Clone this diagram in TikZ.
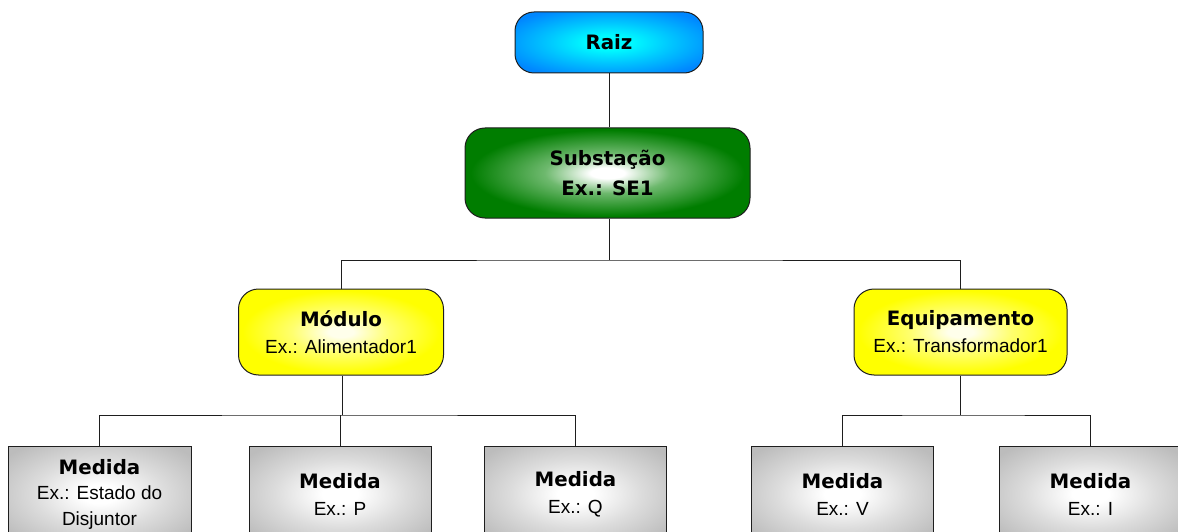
\documentclass[tikz,border=0pt]{standalone}
\usepackage{fontspec}
\newfontfamily\titlef{DejaVu Sans}
\newfontfamily\subf{Liberation Sans}
\definecolor{boxgray}{RGB}{188,188,188}
\definecolor{graymid}{RGB}{220,220,220}
\definecolor{rootblue}{RGB}{0,135,255}
\definecolor{rootmid}{RGB}{0,200,255}
\definecolor{rootcyan}{RGB}{0,250,255}
\definecolor{subgreen}{RGB}{0,125,0}
\definecolor{greenmid}{RGB}{110,185,110}
\definecolor{modyellow}{RGB}{255,255,0}
\definecolor{yellowmid}{RGB}{255,255,110}
\definecolor{modcenter}{RGB}{255,255,235}
\definecolor{linecol}{RGB}{30,30,30}
\pgfdeclareradialshading{grayshade}{\pgfpoint{0bp}{0bp}}{color(0bp)=(white); color(5bp)=(white); color(18bp)=(graymid); color(32bp)=(boxgray); color(100bp)=(boxgray)}
\pgfdeclareradialshading{rootshade}{\pgfpoint{0bp}{0bp}}{color(0bp)=(rootcyan); color(6bp)=(rootcyan); color(16bp)=(rootmid); color(30bp)=(rootblue); color(100bp)=(rootblue)}
\pgfdeclareradialshading{greenshade}{\pgfpoint{0bp}{0bp}}{color(0bp)=(white); color(3bp)=(white); color(11bp)=(greenmid); color(24bp)=(subgreen); color(100bp)=(subgreen)}
\pgfdeclareradialshading{yellowshade}{\pgfpoint{0bp}{0bp}}{color(0bp)=(modcenter); color(3bp)=(modcenter); color(12bp)=(yellowmid); color(24bp)=(modyellow); color(100bp)=(modyellow)}
\newcommand{\ttlfnt}{\titlef\bfseries\fontsize{19.8}{27}\selectfont}
\newcommand{\subfnt}{\subf}
\tikzset{
  basebox/.style={draw=linecol, line width=1pt, align=center, inner sep=0pt,
    font=\fontsize{19}{27}\selectfont},
  rootbox/.style={basebox, shading=rootshade, rounded corners=19pt, minimum width=188pt, minimum height=61pt},
  subbox/.style={basebox, shading=greenshade, rounded corners=20pt, minimum width=285pt, minimum height=90pt, font=\fontsize{19}{30}\selectfont},
  modbox/.style={basebox, shading=yellowshade, rounded corners=20pt, minimum height=86pt},
  medbox/.style={basebox, shading=grayshade, minimum width=182pt, minimum height=96pt},
  conn/.style={draw=linecol, line width=1pt}
}
\begin{document}
\begin{tikzpicture}[x=1pt,y=-1pt]
\useasboundingbox (0,0) rectangle (1178,532);
\clip (0,0) rectangle (1178,532);
\node[rootbox] (raiz) at (609,42.5) {\ttlfnt Raiz};
\node[subbox] (sub) at (607.5,173) {\ttlfnt Substação\\\ttlfnt Ex.: SE1};
\node[modbox, minimum width=205pt] (mod) at (341,332) {\ttlfnt Módulo\\\subfnt Ex.: Alimentador1};
\node[modbox, minimum width=213pt] (equ) at (960.5,332) {\ttlfnt Equipamento\\\subfnt Ex.: Transformador1};
\node[medbox, minimum width=183pt, font=\fontsize{19}{25.5}\selectfont] (m1) at (99.5,494) {\ttlfnt Medida\\\subfnt Ex.: Estado do\\\subfnt Disjuntor};
\node[medbox] (m2) at (340,494) {\ttlfnt Medida\\\subfnt Ex.: P};
\node[medbox] (m3) at (575.5,494) {\ttlfnt Medida\\\subfnt Ex.: Q};
\node[medbox] (m4) at (842.5,494) {\ttlfnt Medida\\\subfnt Ex.: V};
\node[medbox, minimum width=183pt] (m5) at (1090.5,494) {\ttlfnt Medida\\\subfnt Ex.: I};
\coordinate (j1) at (609,260);
\coordinate (j2) at (342,415);
\coordinate (j3) at (960.5,415);
\draw[conn] (raiz.south) -- (raiz.south |- sub.north);
\draw[conn] (sub.south -| j1) -- (j1);
\draw[conn] (mod.north) |- (j1) -| (equ.north);
\draw[conn] (mod.south -| j2) -- (j2);
\draw[conn] (m1.north) |- (j2) -| (m3.north);
\draw[conn] (m2.north) -- (m2.north |- j2);
\draw[conn] (equ.south) -- (j3);
\draw[conn] (m4.north) |- (j3) -| (m5.north);
\end{tikzpicture}
\end{document}
